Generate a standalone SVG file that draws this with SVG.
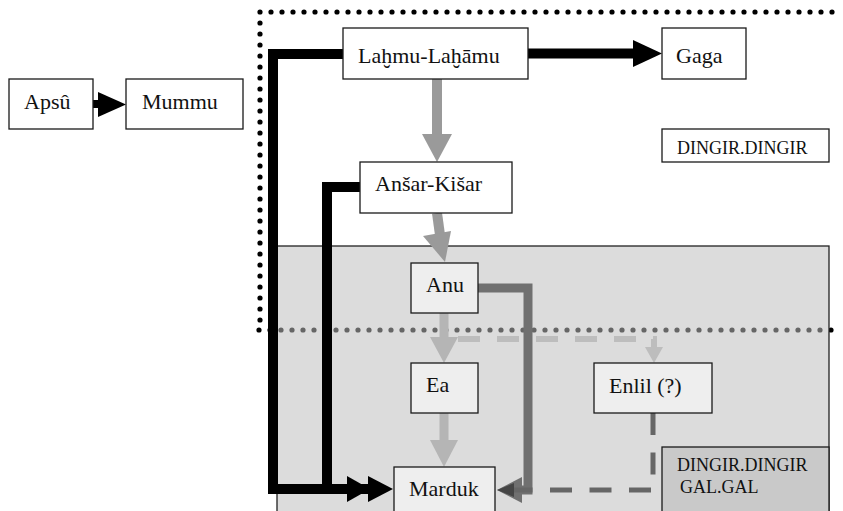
<svg xmlns="http://www.w3.org/2000/svg" width="843" height="511" viewBox="0 0 843 511">
<style>
.box{stroke:#1a1a1a;stroke-width:1.3}
.w{fill:#fff}
.l{fill:#eeeeee}
.d{fill:#c9c9c9}
text{font-family:"Liberation Serif","Times New Roman","DejaVu Serif",serif;font-size:22px;fill:#111}
.s{font-size:18px}
.dots{fill:none;stroke-width:5.2;stroke-linecap:round;stroke-dasharray:0 11}
.blk{fill:none;stroke:#000;stroke-width:10;stroke-linejoin:miter}
.g1{fill:none;stroke:#9a9a9a;stroke-width:10}
.g2{fill:none;stroke:#b5b5b5;stroke-width:9}
.g3{fill:none;stroke:#707070;stroke-width:9;stroke-linejoin:miter}
.dash1{fill:none;stroke:#bdbdbd;stroke-width:6;stroke-dasharray:22 17}
.dash2{fill:none;stroke:#666;stroke-width:5;stroke-dasharray:22 17.5}
</style>
<defs>
<clipPath id="inRect"><rect x="278" y="315" width="551" height="30"/></clipPath>
</defs>
<rect width="843" height="511" fill="#fff"/>
<g id="frame">
<path class="dots" stroke="#000" d="M260,12 H843"/>
<path class="dots" stroke="#000" d="M260,23 V325"/>
<path class="dots" stroke="#000" d="M259,330 H837"/>
<rect x="277" y="246" width="552" height="290" fill="#dcdcdc" stroke="#222" stroke-width="1.3"/>
<path class="dots" stroke="#666" stroke-width="4.5" clip-path="url(#inRect)" d="M259,330 H837"/>
</g>
<g id="connectors">
<path class="g1" d="M437,79 V136"/>
<polygon fill="#9a9a9a" points="422,134 452,134 437,162"/>
<path class="g1" d="M437,213 L440,235"/>
<polygon fill="#9a9a9a" points="423,236 451,231 445,262"/>
<path class="g2" d="M444,313 V339"/>
<polygon fill="#b5b5b5" points="430,337 458,337 444,363"/>
<path class="g2" d="M444,413 V442"/>
<polygon fill="#b5b5b5" points="430,440 458,440 444,467"/>
<path class="dash1" d="M458,339 H654 V348"/>
<polygon fill="#bdbdbd" points="645,347 663,347 654,363"/>
<path class="g3" d="M478,288 H528 V490 H518"/>
<polygon fill="#707070" points="522,477 522,503 497,490"/>
<path class="dash2" d="M653,413 V490 H513"/>
<polygon fill="#454545" points="514,483 514,497 497,490"/>
<path class="blk" d="M343,54 H273 V489 H350"/>
<polygon fill="#000" points="347,476 370,489 347,502"/>
<path class="blk" d="M360,187 H327 V489 H370"/>
<polygon fill="#000" points="368,476 393,489 368,502"/>
<rect x="93" y="100" width="7" height="8" fill="#000"/>
<polygon fill="#000" points="98,92 126,104.5 98,117"/>
<path class="blk" d="M528,53.5 H635"/>
<polygon fill="#000" points="633,40 662,53.5 633,67"/>
</g>
<g id="apsu"><rect class="box w" x="9" y="79" width="84" height="50"/><text x="24" y="109">Apsû</text></g>
<g id="mummu"><rect class="box w" x="126" y="79" width="117" height="50"/><text x="142" y="109">Mummu</text></g>
<g id="lahmu"><rect class="box w" x="343" y="28" width="185" height="51"/><text x="358" y="63">Laḫmu-Laḫāmu</text></g>
<g id="gaga"><rect class="box w" x="662" y="28" width="84" height="51"/><text x="676" y="63">Gaga</text></g>
<g id="dingir"><rect class="box w" x="662" y="129" width="167" height="33"/><text class="s" x="677" y="154">DINGIR.DINGIR</text></g>
<g id="anshar"><rect class="box w" x="360" y="162" width="152" height="51"/><text x="375" y="191">Anšar-Kišar</text></g>
<g id="anu"><rect class="box l" x="411" y="263" width="67" height="50"/><text x="426" y="292">Anu</text></g>
<g id="ea"><rect class="box l" x="411" y="363" width="67" height="50"/><text x="426" y="392">Ea</text></g>
<g id="marduk"><rect class="box l" x="394" y="467" width="101" height="60"/><text x="409" y="496">Marduk</text></g>
<g id="enlil"><rect class="box l" x="594" y="363" width="118" height="50"/><text x="609" y="393">Enlil (?)</text></g>
<g id="dingirgal"><rect class="box d" x="662" y="447" width="167" height="80"/><text class="s" x="677" y="471">DINGIR.DINGIR</text><text class="s" x="680" y="493">GAL.GAL</text></g>
</svg>
